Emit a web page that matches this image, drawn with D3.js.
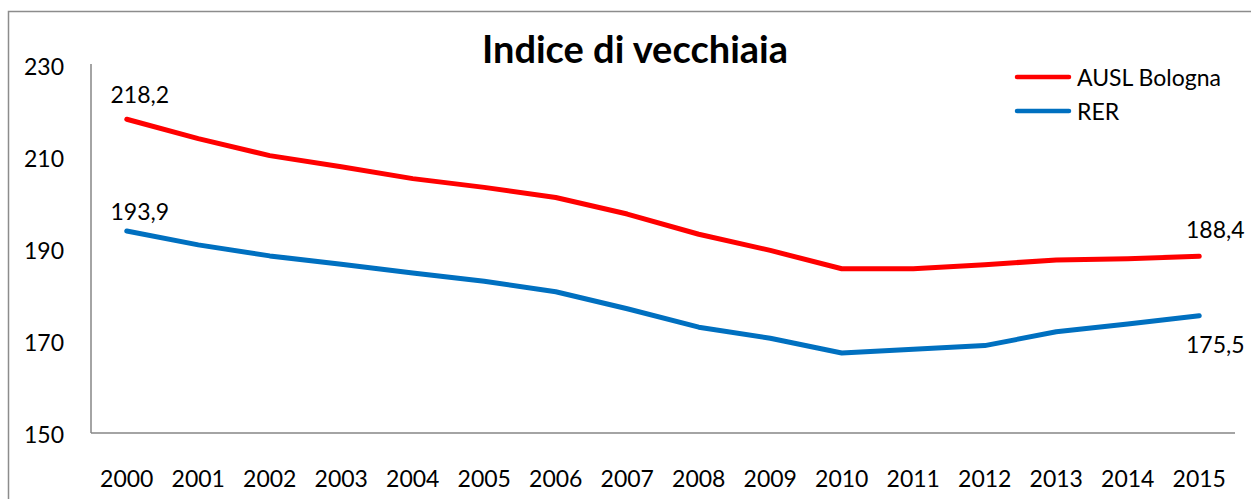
<!DOCTYPE html>
<html>
<head>
<meta charset="utf-8">
<script src="https://cdn.jsdelivr.net/npm/d3@7"></script>
<style>
  html, body { margin: 0; padding: 0; background: #fff; }
  svg { display: block; font-family: Lato, "Open Sans", sans-serif; }
</style>
</head>
<body>
<svg id="chart" width="1251" height="499"></svg>
<script>
// anni (categorie)
const years = ["2000", "2001", "2002", "2003", "2004", "2005", "2006", "2007",
  "2008", "2009", "2010", "2011", "2012", "2013", "2014", "2015"];

// AUSL Bologna
const auslBologna = [218.2, 214.0, 210.3, 207.9, 205.3, 203.4, 201.2, 197.6,
  193.2, 189.7, 185.7, 185.7, 186.6, 187.6, 187.9, 188.4];

// RER
const rer = [193.9, 190.9, 188.5, 186.7, 184.8, 183.0, 180.7, 177.0,
  173.0, 170.6, 167.4, 168.2, 169.0, 172.0, 173.7, 175.5];

// tacche asse y
const yTicks = [150, 170, 190, 210, 230];

const title = "Indice di vecchiaia";

const series = [
  { name: "AUSL Bologna", values: auslBologna, color: "#ff0000" },
  { name: "RER", values: rer, color: "#0070c0" }
];

const svg = d3.select("#chart");
const margin = { left: 91, right: 16, top: 65, bottom: 66 };
const W = 1251, H = 499;
const fontSize = 23;

// cornice esterna del grafico
svg.append("rect")
  .attr("x", 8.5).attr("y", 11.5)
  .attr("width", 1300).attr("height", 600)
  .attr("fill", "none")
  .attr("stroke", "#8c8c8c")
  .attr("stroke-width", 1.5);

// scale
const x = d3.scaleBand()
  .domain(years)
  .range([margin.left, W - margin.right]);

const y = d3.scaleLinear()
  .domain([150, 230])
  .range([H - margin.bottom, margin.top]);

const cx = d => x(d) + x.bandwidth() / 2;

// asse y
const yAxis = svg.append("g")
  .attr("transform", `translate(${margin.left},0)`)
  .call(d3.axisLeft(y).tickValues(yTicks).tickSize(0).tickPadding(27));
yAxis.select(".domain")
  .attr("d", `M0,${y(230) - 1}V${y(150)}`)
  .attr("stroke", "#868686").attr("stroke-width", 1.5);
yAxis.selectAll("text")
  .attr("font-family", "Lato, sans-serif")
  .attr("font-size", fontSize)
  .attr("fill", "#000")
  .attr("dy", "0.42em");

// asse x
const xAxis = svg.append("g")
  .attr("transform", `translate(0,${y(150)})`)
  .call(d3.axisBottom(x).tickSize(0).tickPadding(38));
xAxis.select(".domain")
  .attr("d", `M${margin.left},0H${W - margin.right}`)
  .attr("stroke", "#868686").attr("stroke-width", 1.5);
xAxis.selectAll("text")
  .attr("font-family", "Lato, sans-serif")
  .attr("font-size", fontSize)
  .attr("fill", "#000");

// linee
const line = d3.line()
  .x((d, i) => cx(years[i]))
  .y(d => y(d));

series.forEach(s => {
  svg.append("path")
    .datum(s.values)
    .attr("d", line)
    .attr("fill", "none")
    .attr("stroke", s.color)
    .attr("stroke-width", 5)
    .attr("stroke-linejoin", "round")
    .attr("stroke-linecap", "round");
});

// etichette dei dati (primo e ultimo anno)
const fmt = v => d3.format(".1f")(v).replace(".", ",");
const labels = [
  { v: auslBologna[0], yr: years[0], dx: 13, dy: -24 },
  { v: rer[0], yr: years[0], dx: 13, dy: -19 },
  { v: auslBologna[15], yr: years[15], dx: 16, dy: -26 },
  { v: rer[15], yr: years[15], dx: 16, dy: 29 }
];
svg.selectAll(".dlabel")
  .data(labels)
  .join("text")
  .attr("class", "dlabel")
  .attr("x", d => cx(d.yr) + d.dx)
  .attr("y", d => y(d.v) + d.dy)
  .attr("dy", "0.35em")
  .attr("text-anchor", "middle")
  .attr("font-size", fontSize)
  .text(d => fmt(d.v));

// titolo
svg.append("text")
  .attr("x", 635).attr("y", 63)
  .attr("text-anchor", "middle")
  .attr("font-weight", "bold")
  .attr("font-size", 38)
  .text(title);

// legenda
const legend = svg.append("g").attr("transform", "translate(1017,77)");
series.forEach((s, i) => {
  const g = legend.append("g").attr("transform", `translate(0,${i * 34})`);
  g.append("line")
    .attr("x1", 0).attr("x2", 52)
    .attr("stroke", s.color)
    .attr("stroke-width", 4.5)
    .attr("stroke-linecap", "round");
  g.append("text")
    .attr("x", 60)
    .attr("y", 1)
    .attr("dy", "0.36em")
    .attr("font-size", fontSize)
    .text(s.name);
});
</script>
</body>
</html>
